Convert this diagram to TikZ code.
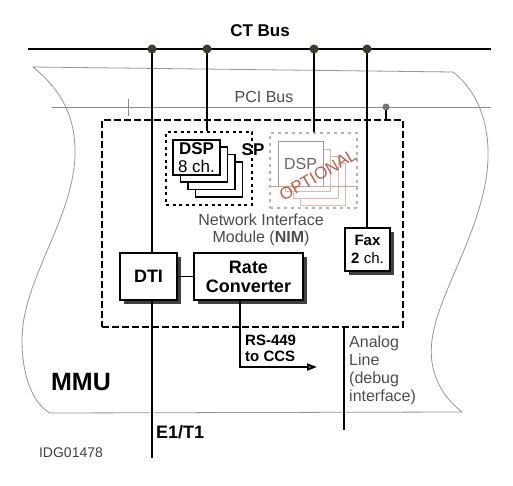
\documentclass[tikz,border=0pt]{standalone}
\usepackage{fontspec}
\setmainfont{Liberation Sans}
\usepackage{xcolor}
\usetikzlibrary{positioning,calc,shadows,arrows.meta}
\definecolor{ctdot}{RGB}{58,62,44}
\definecolor{optred}{RGB}{188,96,72}
\definecolor{mmugray}{RGB}{150,150,150}

\begin{document}
\begin{tikzpicture}[x=1pt, y=-1pt,
    blk/.style={rectangle, draw, line width=1.6pt, fill=white, align=center, inner sep=0pt,
        drop shadow={shadow xshift=3.5pt, shadow yshift=-3.5pt, fill=black!75, opacity=1},
        font=\fontsize{18}{19}\selectfont\bfseries},
    dspcard/.style={rectangle, draw, line width=1.8pt, fill=white, minimum width=47pt, minimum height=35pt, inner sep=0pt},
    optcard/.style={rectangle, draw=optred!45, line width=0.8pt, fill=white, minimum width=45pt, minimum height=42pt, inner sep=0pt},
    grp/.style={rectangle, draw, dash pattern=on 3pt off 3.5pt, line width=1.8pt},
    optgrp/.style={rectangle, draw=black!30, dash pattern=on 3pt off 4pt, line width=1.2pt},
    nimbox/.style={rectangle, draw, dash pattern=on 7pt off 3pt, line width=2pt},
    bus/.style={line width=2.6pt},
    tap/.style={line width=1.8pt},
    pci/.style={black!45, line width=0.9pt},
    lbl/.style={font=\fontsize{16}{18}\selectfont, text=black!70, inner sep=0pt},
    blbl/.style={font=\fontsize{15}{16}\selectfont\bfseries, inner sep=0pt},
]
\fill[white] (0,0) rectangle (513,486);
% MMU outline
\draw[mmugray, line width=0.8pt] (50,413) -- (462,412)
    .. controls (440,395) and (428,370) .. (432,340)
    .. controls (438,290) and (490,220) .. (488,150)
    .. controls (487,110) and (470,85) .. (453,72) -- (33,67)
    .. controls (55,85) and (76,110) .. (75,155)
    .. controls (73,220) and (22,280) .. (22,340)
    .. controls (22,380) and (35,405) .. (50,413) -- cycle;
% Bus coordinates
\coordinate (ctW) at (28,49);
\coordinate (ctE) at (491,49);
\coordinate (tapA) at (152,49);
\coordinate (tapB) at (207,49);
\coordinate (tapC) at (314,49);
\coordinate (tapD) at (367,49);
\coordinate (pciW) at (52,107);
\coordinate (pciE) at (491,107);
\coordinate (pciT) at (386,107);
\coordinate (pcicross) at (128,107);
\coordinate (e1end) at (152,458);
\coordinate (rsbend) at (240,367);
\coordinate (rsend) at (317,367);
\coordinate (anlend) at (344,430);
\coordinate (optbase) at (270,186);
% Nodes
\node[nimbox, minimum width=301pt, minimum height=207pt] (nim) at (252.5,223.5) {};
\node[grp, minimum width=86pt, minimum height=73pt] (dspgrp) at (209,168.5) {};
\node[optgrp, minimum width=87pt, minimum height=75pt] (optgrp) at (313.5,170.5) {};
\foreach \k in {3,2,1}
    \node[dspcard] (dsp\k) at ({196.5+7.5*\k},{157.5+7.3*\k}) {};
\node[dspcard, align=center, font=\fontsize{17}{18}\selectfont] (dsp0) at (196.5,157.5) {\textbf{DSP}\\8 ch.};
\node[font=\fontsize{17}{18}\selectfont\bfseries, inner sep=0pt] (splbl) at (253,150) {SP};
\foreach \k in {3,2,1}
    \node[optcard] (opt\k) at ({300.5+7.5*\k},{163.5+7*\k}) {};
\node[optcard, draw=black!40, minimum height=45pt, text=black!60, font=\fontsize{16}{17}\selectfont] (opt0) at (300.5,163.5) {DSP\\[6pt]};
\draw[optred!60, line width=0.8pt] (optbase) -- (optbase -| optgrp.east);
\node[rotate=30, text=optred, font=\fontsize{17}{18}\selectfont] (optlbl) at (318,175) {OPTIONAL};
\node[blk, minimum width=57pt, minimum height=47pt] (dti) at (148.5,276.5) {DTI};
\node[blk, minimum width=109pt, minimum height=47pt] (rc) at (248.5,276.5) {Rate\\Converter};
\node[blk, minimum width=45pt, minimum height=43pt, font=\fontsize{15}{18}\selectfont] (fax) at (367.5,249.5) {\textbf{Fax}\\\textbf{2} ch.};
% Labels
\node[font=\fontsize{17}{18}\selectfont\bfseries] (ctlbl) at (260,31) {CT Bus};
\node[lbl] (pcilbl) at (264,97) {PCI Bus};
\node[lbl, align=center, font=\fontsize{16}{17}\selectfont] (nimlbl) at (261,230) {Network Interface\\Module (\textbf{NIM})};
\node[font=\fontsize{25}{26}\selectfont\bfseries] (mmulbl) at (81,382) {MMU};
\node[font=\fontsize{18}{19}\selectfont\bfseries, anchor=west, inner sep=0pt] (e1lbl) at (156,432) {E1/T1};
\node[font=\fontsize{14}{15}\selectfont, text=black!75] (idlbl) at (71,453) {IDG01478};
\node[blbl, align=left, anchor=west] (rslbl) at (245,348) {RS-449\\to CCS};
\node[lbl, align=left, anchor=north west, font=\fontsize{16}{18}\selectfont] (anlbl) at (349,336) {Analog\\Line\\(debug\\interface)};
% Connections
\draw[bus] (ctW) -- (ctE);
\draw[pci] (pciW) -- (pciE);
\draw[pci] (pcicross) ++(0,-8) -- ++(0,17);
\draw[tap, line width=2.6pt] (tapA) -- (tapA |- dti.north);
\draw[tap, line width=2.6pt] (tapA |- dti.south) -- (e1end);
\draw[tap] (tapB) -- (tapB |- dspgrp.north);
\draw[tap] (tapC) -- (tapC |- optgrp.north);
\draw[tap] (tapD) -- (tapD |- fax.north);
\draw[tap, line width=1.2pt] (pciT) -- (pciT |- nim.north);
\draw[tap] (dti.east) -- (rc.west);
\draw[tap, -{Triangle[length=10pt, width=7pt, fill=black!45]}] (rsbend |- rc.south) -- (rsbend) -- (rsend);
\draw[tap, line width=1.2pt] (nim.south -| anlend) -- (anlend);
% Bus taps
\foreach \p in {tapA,tapB,tapC,tapD}
    \fill[ctdot] (\p) circle[radius=4.5pt];
\fill[black!55] (pciT) circle[radius=3.5pt];
\end{tikzpicture}
\end{document}
